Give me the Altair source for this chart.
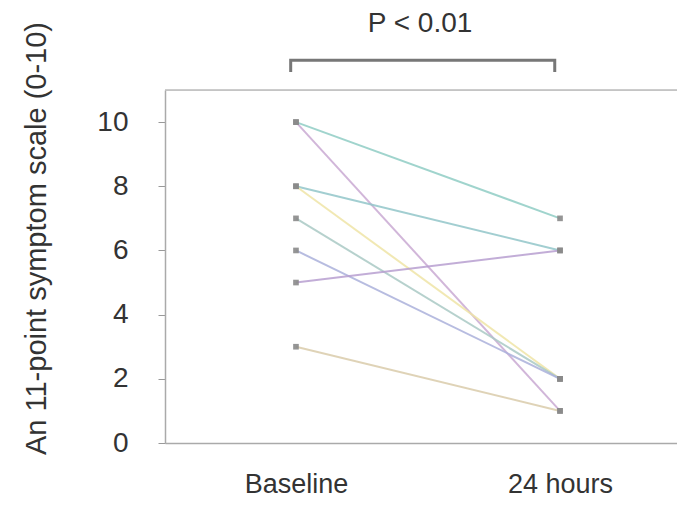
import altair as alt
import pandas as pd

subjects = ["s1", "s2", "s3", "s4", "s5", "s6", "s7", "s8"]
baseline = [10, 10, 8, 8, 7, 6, 5, 3]
after24 = [7, 1, 6, 2, 2, 2, 6, 1]
colors = ["#8fcdc4", "#c9a9d2", "#92c6c9", "#efe4a6", "#a9c9c4", "#aab0da", "#b79fd0", "#d9cbaa"]
time_labels = ["Baseline", "24 hours"]
p_text = "P < 0.01"

rows = []
for s, b, a in zip(subjects, baseline, after24):
    rows.append({"subject": s, "t": 0, "score": b})
    rows.append({"subject": s, "t": 1, "score": a})
df = pd.DataFrame(rows)

W, H = 512, 353
FONT = "Liberation Sans"

xscale = alt.Scale(domain=[-0.496, 1.443], nice=False, zero=False)
yscale = alt.Scale(domain=[0, 11], nice=False, zero=False)

label_expr = "datum.value == 0 ? '%s' : '%s'" % (time_labels[0], time_labels[1])

lines = alt.Chart(df).mark_line(strokeWidth=2, opacity=0.85).encode(
    x=alt.X("t:Q", scale=xscale,
            axis=alt.Axis(values=[0, 1], labelExpr=label_expr,
                          ticks=False, grid=False, title=None, labelFont=FONT, labelFontSize=27,
                          labelColor="#333333", labelPadding=28, domainColor="#aaaaaa",
                          domainWidth=1.5)),
    y=alt.Y("score:Q", scale=yscale,
            axis=alt.Axis(values=list(range(0, 12)),
                          labelExpr="datum.value % 2 == 0 && datum.value <= 10 ? datum.label : ''",
                          grid=False, tickSize=7, tickColor="#999999", domainColor="#aaaaaa",
                          domainWidth=1.5, labelFont=FONT, labelFontSize=28, labelColor="#333333",
                          labelPadding=30, title="An 11-point symptom scale (0-10)",
                          titleFont=FONT, titleFontSize=29, titleFontWeight="normal",
                          titleColor="#333333", titleX=-120, titleY=148, titleAngle=-90,
                          titleAlign="center", titleBaseline="alphabetic")),
    color=alt.Color("subject:N", scale=alt.Scale(domain=subjects, range=colors), legend=None),
    detail="subject:N",
)

points = alt.Chart(df).mark_point(filled=True, size=32, color="#8a8a8a", shape="square", opacity=0.9).encode(
    x=alt.X("t:Q", scale=xscale),
    y=alt.Y("score:Q", scale=yscale),
)

topline = alt.Chart(pd.DataFrame({"v": [11]})).mark_rule(color="#bbbbbb", strokeWidth=1.5).encode(
    y=alt.Y("v:Q", scale=yscale), x=alt.value(0), x2=alt.value(W)
)

bracket_df = pd.DataFrame({
    "x": [-0.02, -0.02, 0.98, 0.98],
    "y": [11.56, 11.93, 11.93, 11.56],
    "o": [0, 1, 2, 3],
})
bracket = alt.Chart(bracket_df).mark_line(color="#777777", strokeWidth=3, clip=False).encode(
    x=alt.X("x:Q", scale=xscale), y=alt.Y("y:Q", scale=yscale), order="o:Q"
)

ptext = alt.Chart(pd.DataFrame({"x": [0.47], "y": [13.07], "label": [p_text]})).mark_text(
    font=FONT, fontSize=28, color="#333333", align="center", baseline="middle", clip=False
).encode(x=alt.X("x:Q", scale=xscale), y=alt.Y("y:Q", scale=yscale), text="label:N")

chart = alt.layer(topline, lines, points, bracket, ptext).properties(
    width=W, height=H,
    autosize=alt.AutoSizeParams(type="none"),
    padding={"left": 157, "top": 82, "right": 0, "bottom": 55},
).configure_view(stroke=None).configure(background="white")

chart.save("out.html", embed_options={"renderer": "svg", "actions": False})
